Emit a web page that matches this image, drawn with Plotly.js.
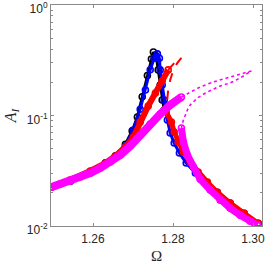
<!DOCTYPE html>
<html><head><meta charset="utf-8">
<script src="https://cdn.plot.ly/plotly-3.0.1.min.js"></script>
<style>html,body{margin:0;padding:0;background:#fff}#c{width:266px;height:266px}</style>
</head><body><div id="c"></div>
<script>
// Black circles
const blackX = [1.2496,1.2543,1.2593,1.2631,1.2656,1.2681,1.2698,1.2711,1.2723,1.2736,1.2746,1.2751,1.2758,1.2763,1.2768,1.2773,1.2778];
const blackY = [0.0225,0.0254,0.0301,0.0371,0.0429,0.0549,0.0725,0.0970,0.1480,0.2300,0.3250,0.3760,0.3450,0.2590,0.1890,0.1382,0.1122];
// Blue circles
const blueX = [1.2496,1.2543,1.2593,1.2631,1.2656,1.2681,1.2701,1.2718,1.2731,1.2743,1.2753,1.2761,1.2766,1.2768,1.2773,1.2778,1.2781,1.2786,1.2793,1.2803,1.2816,1.2833,1.2856,1.2886,1.2911,1.2943,1.2978,1.3013];
const blueY = [0.0225,0.0254,0.0301,0.0371,0.0429,0.0529,0.0739,0.1138,0.1700,0.2600,0.3300,0.3614,0.3300,0.2590,0.1891,0.1382,0.1122,0.0910,0.0694,0.0563,0.0457,0.0371,0.0301,0.0244,0.0202,0.0161,0.0130,0.01058];
// Red circles: upper branch and lower branch
const redUpX = [1.2496,1.2543,1.2593,1.2631,1.2656,1.2681,1.2701,1.2718,1.2738,1.2756,1.2773,1.2788];
const redUpY = [0.0225,0.0260,0.0314,0.0371,0.0429,0.0518,0.0638,0.0873,0.1220,0.1600,0.2056,0.2588];
const redLoX = [1.2783,1.2796,1.2803,1.2813,1.2826,1.2843,1.2863,1.2886,1.2911,1.2943,1.2978,1.3013];
const redLoY = [0.1076,0.0873,0.0708,0.0575,0.0466,0.0378,0.0307,0.0249,0.0202,0.0161,0.0130,0.01058];
// Red dashed (continuation of upper branch and middle branch)
const redDashX = [1.2788,1.2798,1.2808,1.2821,1.2811,1.2801,1.2793,1.2788,1.2786,1.2783];
const redDashY = [0.2588,0.2872,0.3123,0.3324,0.2996,0.2588,0.2100,0.1704,0.1382,0.1122];
// Magenta circles: upper and lower branch
const magUpX = [1.2496,1.2518,1.2543,1.2568,1.2593,1.2618,1.2643,1.2668,1.2693,1.2718,1.2743,1.2768,1.2793,1.2821];
const magUpY = [0.02245,0.0239,0.02544,0.02766,0.03008,0.03339,0.03785,0.04381,0.05288,0.06653,0.08375,0.1032,0.1245,0.1472];
const magLoX = [1.2821,1.2826,1.2836,1.2851,1.2868,1.2893,1.2918,1.2943,1.2968,1.2993,1.3011];
const magLoY = [0.0770,0.0575,0.0438,0.0341,0.0265,0.0211,0.0171,0.01447,0.0125,0.01103,0.01015];
// Magenta dashed (upper continuation to the fold, then middle branch)
const magDashX = [1.2821,1.2843,1.2868,1.2901,1.2943,1.2968,1.2996,1.2968,1.2943,1.2918,1.2901,1.2881,1.2861,1.2843,1.2836,1.2826,1.2821];
const magDashY = [0.1472,0.1633,0.1814,0.2014,0.2236,0.2379,0.2533,0.2189,0.1972,0.1852,0.1739,0.1600,0.1441,0.1245,0.1122,0.0910,0.0770];
// Tick labels
const xTickVals = [1.26,1.28,1.30];
const xTickText = ['1.26','1.28','1.30'];
const yTickVals = [0.01,0.1,1];
const yTickText = ['10<sup>-2</sup>','10<sup>-1</sup>','10<sup>0</sup>'];
const yMinorVals = [0.02,0.03,0.04,0.05,0.06,0.07,0.08,0.09,0.2,0.3,0.4,0.5,0.6,0.7,0.8,0.9];

const circ = (c)=>({symbol:'circle-open',size:6,color:c,line:{width:1.6,color:c}});
const traces = [
  {x:blackX,y:blackY,mode:'lines+markers',line:{color:'#000',width:3},marker:circ('#000')},
  {x:blueX,y:blueY,mode:'lines+markers',line:{color:'#0000ff',width:3},marker:circ('#0000ff')},
  {x:redUpX,y:redUpY,mode:'lines+markers',line:{color:'#ff0000',width:6},marker:circ('#ff0000')},
  {x:redLoX,y:redLoY,mode:'lines+markers',line:{color:'#ff0000',width:5},marker:circ('#ff0000')},
  {x:redDashX,y:redDashY,mode:'lines',line:{color:'#ff0000',width:2,dash:'dash'}},
  {x:magUpX,y:magUpY,mode:'lines+markers',line:{color:'#ff00ff',width:8},marker:circ('#ff00ff')},
  {x:magLoX,y:magLoY,mode:'lines+markers',line:{color:'#ff00ff',width:7},marker:circ('#ff00ff')},
  {x:magDashX,y:magDashY,mode:'lines',line:{color:'#ff00ff',width:1.6,dash:'dot'}}
];
const axCol = '#8a8a8a';
const layout = {
  width:266,height:266,
  margin:{l:51,r:4,t:5,b:40},
  paper_bgcolor:'#fff',plot_bgcolor:'#fff',
  showlegend:false,
  font:{family:'Liberation Sans, Arial, sans-serif',size:12,color:'#262626'},
  xaxis:{range:[1.2495,1.30225],tickmode:'array',tickvals:xTickVals,ticktext:xTickText,
    ticks:'inside',ticklen:3,tickcolor:axCol,showline:true,linecolor:axCol,linewidth:1,mirror:'ticks',
    showgrid:false,zeroline:false,ticklabelstandoff:2,ticklabeloverflow:'allow',
    title:{text:'Ω',font:{family:'Liberation Serif, serif',size:15,color:'#262626'},standoff:5}},
  yaxis:{type:'log',range:[-2.001,0.001],tickmode:'array',tickvals:yTickVals,ticktext:yTickText,
    ticks:'inside',ticklen:3,tickcolor:axCol,showline:true,linecolor:axCol,linewidth:1,mirror:'ticks',
    showgrid:false,zeroline:false,ticklabeloverflow:'allow',ticklabelshift:4,
    minor:{tickmode:'array',tickvals:yMinorVals,ticks:'inside',ticklen:2,tickcolor:axCol},
    title:{text:'<i>A</i><sub><i>I</i></sub>',font:{family:'Liberation Serif, serif',size:16,color:'#262626'},standoff:6}}
};
Plotly.newPlot('c',traces,layout,{staticPlot:true,displayModeBar:false});
</script></body></html>
